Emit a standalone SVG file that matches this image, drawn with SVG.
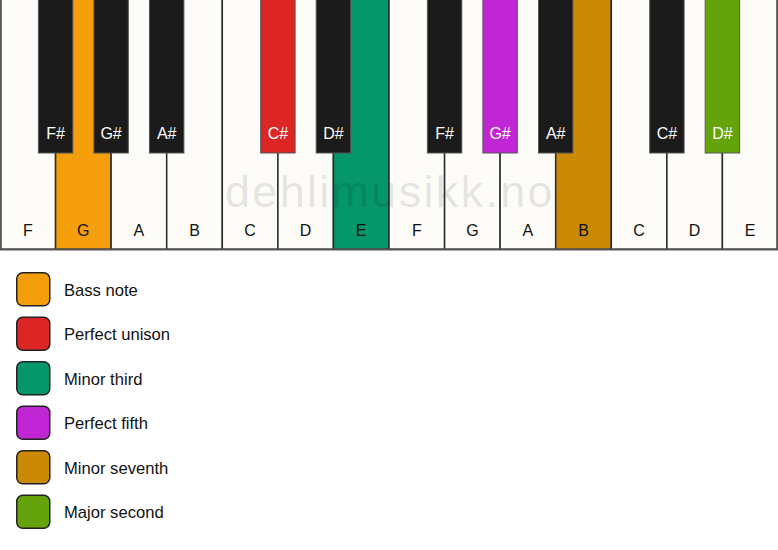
<svg xmlns="http://www.w3.org/2000/svg" width="778" height="550" viewBox="0 0 778 550">
<style>
.w{fill:#fdfcf9;stroke:#2a2a2a;stroke-width:1.5}
.b{fill:#1b1b1b;stroke:#555;stroke-width:1}
.wl{font-family:"Liberation Sans",Arial,sans-serif;font-size:16px;fill:#111;text-anchor:middle}
.bl{font-family:"Liberation Sans",Arial,sans-serif;font-size:16px;fill:#fff;text-anchor:middle}
.sw{stroke:#222;stroke-width:1.5}
.lt{font-family:"Liberation Sans",Arial,sans-serif;font-size:16.6px;fill:#111}
</style>
<rect width="778" height="550" fill="#ffffff"/>
<g id="white-keys">
<g id="wF1"><rect class="w" x="0.75" y="-1" width="54.8" height="250.25"/><text class="wl" x="27.8" y="236">F</text></g>
<g id="wG1"><rect class="w" x="55.6" y="-1" width="55.5" height="250.25" style="fill:#f59e0b"/><text class="wl" x="83.3" y="236">G</text></g>
<g id="wA1"><rect class="w" x="111.1" y="-1" width="55.6" height="250.25"/><text class="wl" x="138.9" y="236">A</text></g>
<g id="wB1"><rect class="w" x="166.7" y="-1" width="55.6" height="250.25"/><text class="wl" x="194.5" y="236">B</text></g>
<g id="wC1"><rect class="w" x="222.3" y="-1" width="55.6" height="250.25"/><text class="wl" x="250.1" y="236">C</text></g>
<g id="wD1"><rect class="w" x="277.9" y="-1" width="55.5" height="250.25"/><text class="wl" x="305.6" y="236">D</text></g>
<g id="wE1"><rect class="w" x="333.4" y="-1" width="55.6" height="250.25" style="fill:#059669"/><text class="wl" x="361.2" y="236">E</text></g>
<g id="wF2"><rect class="w" x="389" y="-1" width="55.6" height="250.25"/><text class="wl" x="416.8" y="236">F</text></g>
<g id="wG2"><rect class="w" x="444.6" y="-1" width="55.5" height="250.25"/><text class="wl" x="472.4" y="236">G</text></g>
<g id="wA2"><rect class="w" x="500.1" y="-1" width="55.6" height="250.25"/><text class="wl" x="527.9" y="236">A</text></g>
<g id="wB2"><rect class="w" x="555.7" y="-1" width="55.6" height="250.25" style="fill:#ca8a04"/><text class="wl" x="583.5" y="236">B</text></g>
<g id="wC2"><rect class="w" x="611.3" y="-1" width="55.6" height="250.25"/><text class="wl" x="639.1" y="236">C</text></g>
<g id="wD2"><rect class="w" x="666.9" y="-1" width="55.5" height="250.25"/><text class="wl" x="694.6" y="236">D</text></g>
<g id="wE2"><rect class="w" x="722.4" y="-1" width="54.85" height="250.25"/><text class="wl" x="750.2" y="236">E</text></g>
</g>
<line x1="0" y1="249.5" x2="778" y2="249.5" stroke="#555" stroke-width="2"/>
<line x1="0.75" y1="0" x2="0.75" y2="250" stroke="#555" stroke-width="1.5"/>
<line x1="777.25" y1="0" x2="777.25" y2="250" stroke="#555" stroke-width="1.5"/>
<text x="225" y="206.7" font-family="Liberation Sans,Arial,sans-serif" font-size="45" letter-spacing="2.3" fill="#000" fill-opacity="0.11">dehlimusikk.no</text>
<g id="black-keys">
<g id="bFs1"><rect class="b" x="38.4" y="-1" width="34.4" height="154"/><text class="bl" x="55.6" y="139">F#</text></g>
<g id="bGs1"><rect class="b" x="93.9" y="-1" width="34.4" height="154"/><text class="bl" x="111.1" y="139">G#</text></g>
<g id="bAs1"><rect class="b" x="149.5" y="-1" width="34.4" height="154"/><text class="bl" x="166.7" y="139">A#</text></g>
<g id="bCs1"><rect class="b" x="260.7" y="-1" width="34.4" height="154" style="fill:#dc2626"/><text class="bl" x="277.9" y="139">C#</text></g>
<g id="bDs1"><rect class="b" x="316.2" y="-1" width="34.4" height="154"/><text class="bl" x="333.4" y="139">D#</text></g>
<g id="bFs2"><rect class="b" x="427.4" y="-1" width="34.4" height="154"/><text class="bl" x="444.6" y="139">F#</text></g>
<g id="bGs2"><rect class="b" x="482.9" y="-1" width="34.4" height="154" style="fill:#c026d3"/><text class="bl" x="500.1" y="139">G#</text></g>
<g id="bAs2"><rect class="b" x="538.5" y="-1" width="34.4" height="154"/><text class="bl" x="555.7" y="139">A#</text></g>
<g id="bCs2"><rect class="b" x="649.7" y="-1" width="34.4" height="154"/><text class="bl" x="666.9" y="139">C#</text></g>
<g id="bDs2"><rect class="b" x="705.2" y="-1" width="34.4" height="154" style="fill:#65a30d"/><text class="bl" x="722.4" y="139">D#</text></g>
</g>
<g id="legend">
<g id="lg1"><rect class="sw" x="16.75" y="272.75" width="33" height="33" rx="6" fill="#f59e0b"/><text class="lt" x="64" y="295.5">Bass note</text></g>
<g id="lg2"><rect class="sw" x="16.75" y="317.25" width="33" height="33" rx="6" fill="#dc2626"/><text class="lt" x="64" y="340">Perfect unison</text></g>
<g id="lg3"><rect class="sw" x="16.75" y="361.75" width="33" height="33" rx="6" fill="#059669"/><text class="lt" x="64" y="384.5">Minor third</text></g>
<g id="lg4"><rect class="sw" x="16.75" y="406.25" width="33" height="33" rx="6" fill="#c026d3"/><text class="lt" x="64" y="429">Perfect fifth</text></g>
<g id="lg5"><rect class="sw" x="16.75" y="450.75" width="33" height="33" rx="6" fill="#ca8a04"/><text class="lt" x="64" y="473.5">Minor seventh</text></g>
<g id="lg6"><rect class="sw" x="16.75" y="495.25" width="33" height="33" rx="6" fill="#65a30d"/><text class="lt" x="64" y="518">Major second</text></g>
</g>
</svg>
